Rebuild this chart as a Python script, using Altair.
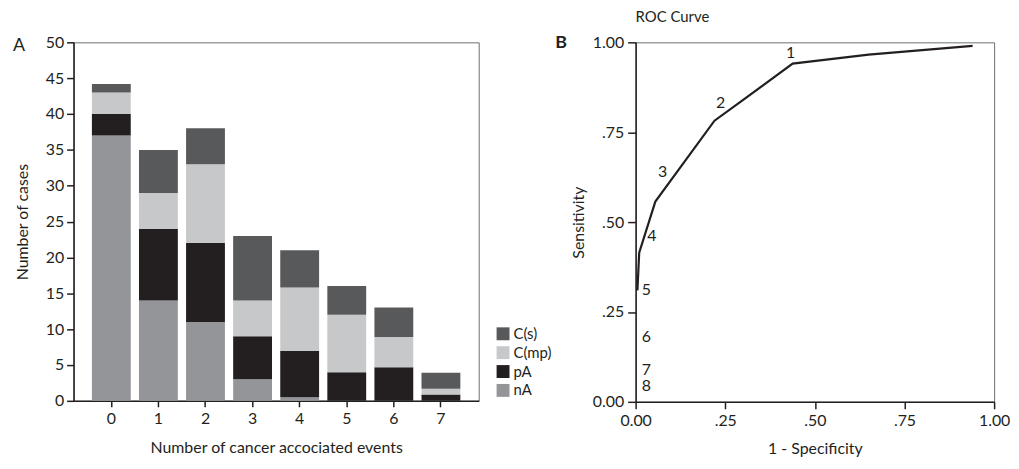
import altair as alt
import pandas as pd

# ---------- Panel A data ----------
events = [0, 1, 2, 3, 4, 5, 6, 7]
nA = [37, 14, 11, 3, 0.5, 0, 0, 0]
pA = [3, 10, 11, 6, 6.5, 4, 4.7, 0.9]
Cmp = [3, 5, 11, 5, 8.8, 8, 4.2, 0.8]
Cs = [1.2, 6, 5, 9, 5.2, 4, 4.1, 2.2]
groups = ["nA", "pA", "C(mp)", "C(s)"]
legend_order = ["C(s)", "C(mp)", "pA", "nA"]
group_colors = {"C(s)": "#58595b", "C(mp)": "#c7c8ca", "pA": "#231f20", "nA": "#939598"}
y_ticks_a = [0, 5, 10, 15, 20, 25, 30, 35, 40, 45, 50]

# ---------- Panel B data ----------
fpr = [0.005, 0.01, 0.055, 0.22, 0.30, 0.438, 0.65, 0.94]
sens = [0.31, 0.415, 0.557, 0.782, 0.840, 0.941, 0.966, 0.99]
lab_text = ["1", "2", "3", "4", "5", "6", "7", "8"]
lab_x = [0.432, 0.237, 0.075, 0.045, 0.03, 0.03, 0.03, 0.03]
lab_y = [0.97, 0.832, 0.64, 0.46, 0.31, 0.18, 0.088, 0.045]
b_ticks = [0, 0.25, 0.5, 0.75, 1.0]

FONT = "Lato"
INK = "#231f20"

rows = []
series = {"nA": nA, "pA": pA, "C(mp)": Cmp, "C(s)": Cs}
for gi, g in enumerate(groups):
    for e, v in zip(events, series[g]):
        rows.append({"event": e, "group": g, "value": v, "ord": gi})
bars_df = pd.DataFrame(rows)

bars = alt.Chart(bars_df).mark_bar().encode(
    x=alt.X("event:O",
            scale=alt.Scale(paddingInner=0.175, paddingOuter=0.39),
            axis=alt.Axis(title="Number of cancer accociated events", labelAngle=0,
                          tickSize=6, labelPadding=4, titlePadding=13)),
    y=alt.Y("value:Q", stack="zero",
            scale=alt.Scale(domain=[0, 50], nice=False),
            axis=alt.Axis(title="Number of cases", values=y_ticks_a, tickSize=7,
                          labelPadding=3, titlePadding=15, labelFlush=False)),
    color=alt.Color("group:N",
                    scale=alt.Scale(domain=legend_order,
                                    range=[group_colors[g] for g in legend_order]),
                    legend=alt.Legend(title=None, orient="none", legendX=425, legendY=286,
                                      symbolType="square", symbolSize=169,
                                      symbolStrokeWidth=0, labelFontSize=15,
                                      labelFont=FONT, labelColor=INK,
                                      rowPadding=3, labelOffset=3)),
    order=alt.Order("ord:Q", sort="ascending"),
)

a_label = alt.Chart(pd.DataFrame({"t": ["A"]})).mark_text(
    fontSize=18, font=FONT, color=INK, align="left", baseline="middle"
).encode(x=alt.value(-61), y=alt.value(4), text="t:N")

panel_a = alt.layer(bars, a_label).properties(width=408, height=361)

# ---------- Panel B ----------
roc_df = pd.DataFrame({"fpr": fpr, "sens": sens})
lab_df = pd.DataFrame({"x": lab_x, "y": lab_y, "t": lab_text})

label_expr = ("datum.value > 0 && datum.value < 1 ? "
              "slice(format(datum.value, '.2f'), 1) : format(datum.value, '.2f')")

xb = alt.X("fpr:Q", scale=alt.Scale(domain=[0, 1], nice=False),
           axis=alt.Axis(title="1 - Specificity", values=b_ticks, labelExpr=label_expr,
                         tickSize=7, labelPadding=4, titlePadding=12, labelFlush=False))
yb = alt.Y("sens:Q", scale=alt.Scale(domain=[0, 1], nice=False),
           axis=alt.Axis(title="Sensitivity", values=b_ticks, labelExpr=label_expr,
                         tickSize=8, labelPadding=4, titlePadding=6, labelFlush=False))

roc_line = alt.Chart(roc_df).mark_line(color=INK, strokeWidth=2.2).encode(x=xb, y=yb)

roc_labels = alt.Chart(lab_df).mark_text(
    fontSize=16, font=FONT, color=INK, align="center", baseline="middle"
).encode(x=alt.X("x:Q"), y=alt.Y("y:Q"), text="t:N")

b_label = alt.Chart(pd.DataFrame({"t": ["B"]})).mark_text(
    fontSize=18, font=FONT, fontWeight="bold", color=INK, align="left", baseline="middle"
).encode(x=alt.value(-81), y=alt.value(1), text="t:N")

panel_b = alt.layer(roc_line, roc_labels, b_label).properties(
    width=361, height=362,
    title=alt.TitleParams("ROC Curve", anchor="start", frame="group", fontSize=15,
                          font=FONT, fontWeight="normal", color=INK, offset=9),
)

chart = alt.hconcat(panel_a, panel_b, spacing=75).properties(
    padding={"left": 4, "top": 0, "right": 0, "bottom": 0}
).configure(font=FONT).configure_view(
    stroke="#6d6e71", strokeWidth=1
).configure_axis(
    domainColor=INK, domainWidth=1.5, tickColor=INK, tickWidth=1.5, grid=False,
    labelFont=FONT, labelFontSize=16, labelColor=INK,
    titleFont=FONT, titleFontSize=16, titleColor=INK, titleFontWeight="normal",
)

chart.save("out.html", embed_options={"renderer": "svg", "actions": False})
